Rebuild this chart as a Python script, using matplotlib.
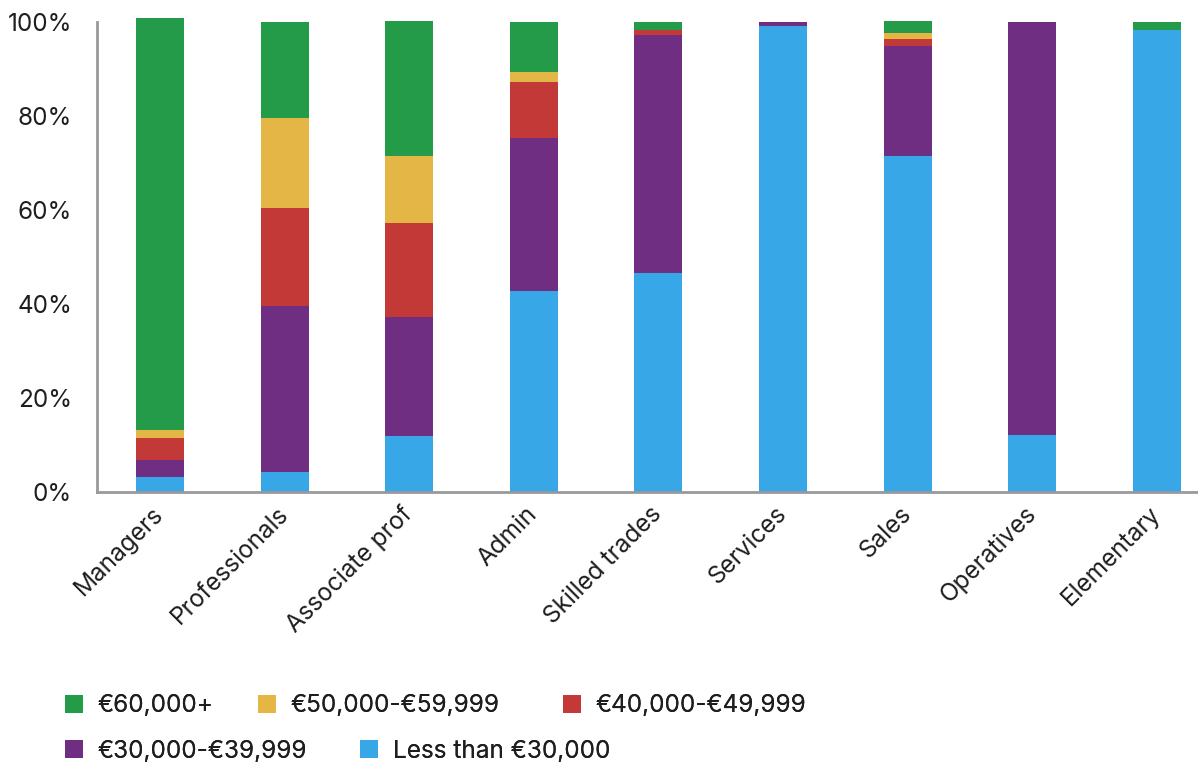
import matplotlib
matplotlib.use("Agg")
import matplotlib.pyplot as plt
import numpy as np

categories = ["Managers", "Professionals", "Associate prof", "Admin", "Skilled trades",
              "Services", "Sales", "Operatives", "Elementary"]
less_30k = [3.2, 4.3, 11.9, 42.8, 46.6, 99.1, 71.5, 12.1, 98.3]
k30_39 = [3.6, 35.3, 25.3, 32.5, 50.6, 0.9, 23.4, 87.9, 0.0]
k40_49 = [4.7, 20.8, 20.0, 11.9, 1.2, 0.0, 1.5, 0.0, 0.0]
k50_59 = [1.7, 19.2, 14.3, 2.2, 0.0, 0.0, 1.3, 0.0, 0.0]
k60_plus = [87.7, 20.4, 28.7, 10.6, 1.6, 0.0, 2.5, 0.0, 1.7]
series_labels = ["€60,000+", "€50,000-€59,999", "€40,000-€49,999",
                 "€30,000-€39,999", "Less than €30,000"]
yticks = [0, 20, 40, 60, 80, 100]

colors = {
    "blue": "#38A7E8",
    "purple": "#702E83",
    "red": "#C33937",
    "yellow": "#E4B645",
    "green": "#239B48",
}

plt.rcParams["font.family"] = ["Inter", "DejaVu Sans"]

fig = plt.figure(figsize=(11.98, 7.62), dpi=100)
ax = fig.add_axes([0.081, 0.354, 0.919, 0.617])

x = np.arange(len(categories))
w = 0.385
stack = [(less_30k, colors["blue"], series_labels[4]),
         (k30_39, colors["purple"], series_labels[3]),
         (k40_49, colors["red"], series_labels[2]),
         (k50_59, colors["yellow"], series_labels[1]),
         (k60_plus, colors["green"], series_labels[0])]
bottom = np.zeros(len(categories))
handles = {}
for vals, c, lab in stack:
    v = np.array(vals)
    b = ax.bar(x, v, w, bottom=bottom, color=c, label=lab, clip_on=False, zorder=2)
    handles[lab] = b
    bottom += v

fs = 17.5
txt = "#1e1e1e"
ax.set_xlim(-0.506, 8.33)
ax.set_ylim(0, 100)
ax.set_yticks(yticks)
ax.set_yticklabels([f"{t}%" for t in yticks], fontsize=fs, color=txt)
ax.set_xticks(x)
ax.set_xticklabels(categories, rotation=45, ha="right", va="center",
                   rotation_mode="anchor", fontsize=fs, color=txt)
ax.tick_params(axis="both", length=0)
ax.tick_params(axis="y", pad=18)
ax.tick_params(axis="x", pad=13)
for s in ["top", "right"]:
    ax.spines[s].set_visible(False)
for s in ["left", "bottom"]:
    ax.spines[s].set_color("#999999")
    ax.spines[s].set_linewidth(2)
    ax.spines[s].set_zorder(3)

# legend entries placed in a flowing two-row layout like the reference
W, H = 1198.0, 762.0
legend_slots = [(series_labels[0], 65, 706), (series_labels[1], 258, 706),
                (series_labels[2], 563, 706), (series_labels[3], 65, 751),
                (series_labels[4], 360, 751)]
for lab, px, py in legend_slots:
    leg = fig.legend([handles[lab]], [lab], loc="center left",
                     bbox_to_anchor=(px / W, 1 - py / H), frameon=False,
                     fontsize=fs, handlelength=0.74, handleheight=0.74,
                     handletextpad=0.6, borderaxespad=0, borderpad=0)
    for t in leg.get_texts():
        t.set_color(txt)
    fig.add_artist(leg)

fig.savefig("out.png", dpi=100)
